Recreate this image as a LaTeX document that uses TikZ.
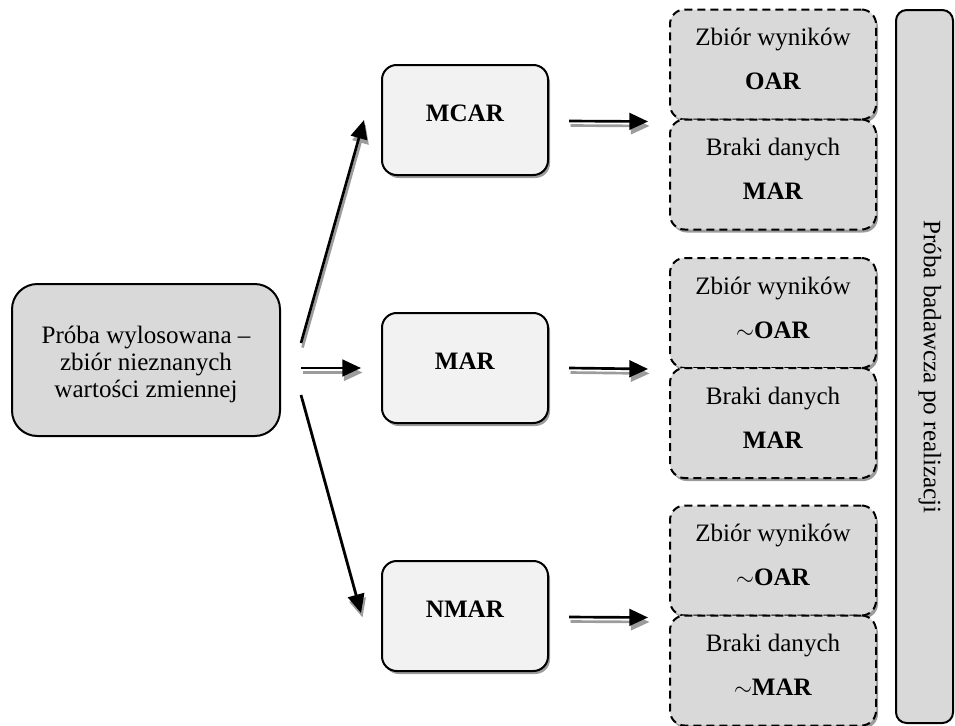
\documentclass[tikz,border=0pt]{standalone}
\usepackage{fontspec}
\setmainfont{Liberation Serif}
\usetikzlibrary{arrows.meta,shadows,calc}
\definecolor{boxgray}{HTML}{D9D9D9}
\definecolor{lightbox}{HTML}{F2F2F2}
\definecolor{shadegray}{HTML}{9C9C9C}
\begin{document}
\begin{tikzpicture}[x=0.75pt,y=-0.75pt,
  every node/.style={font=\fontsize{18.8}{20.25}\selectfont},
  txt/.style={inner sep=0pt, align=center},
  boxshadow/.style={drop shadow={shadow xshift=1.5pt, shadow yshift=-2.25pt, fill=shadegray, opacity=1}},
  startbox/.style={draw, line width=1.5pt, fill=boxgray, rounded corners=19pt,
    minimum width=201pt, minimum height=114pt, inner sep=0pt},
  mechbox/.style={draw, line width=1.5pt, fill=lightbox, rounded corners=11pt,
    minimum width=124.5pt, minimum height=82.5pt, inner sep=0pt, boxshadow},
  resbox/.style={draw, line width=1.5pt, dash pattern=on 6pt off 3.75pt, fill=boxgray,
    rounded corners=11pt, minimum width=154.5pt, minimum height=82.5pt, inner sep=0pt, boxshadow},
  samplebox/.style={draw, line width=1.5pt, fill=boxgray, rounded corners=8pt,
    minimum width=42.75pt, minimum height=534.75pt, inner sep=0pt},
  flow/.style={line width=2pt, -{Triangle[length=14pt,width=12.5pt]}},
  flowshadow/.style={flow, draw=shadegray, fill=shadegray, transform canvas={shift={(1.5,4.5)}}}
]
\useasboundingbox (0,0) rectangle (955,725);

% starting box
\node[startbox] (start) at (146,360) {};
\node[txt] (starttxt) at (146,364) {Próba wylosowana –\\zbiór nieznanych\\wartości zmiennej};

% missingness mechanisms
\node[mechbox] (mcar) at (465,120) {};
\node[mechbox] (mar)  at (465,368) {};
\node[mechbox] (nmar) at (465,616) {};
\node[txt, anchor=base] (mcartxt) at ($(mcar.center)+(0,1)$) {\textbf{MCAR}};
\node[txt, anchor=base] (martxt)  at ($(mar.center)+(0,1)$)  {\textbf{MAR}};
\node[txt, anchor=base] (nmartxt) at ($(nmar.center)+(0,1)$) {\textbf{NMAR}};

% result boxes
\node[resbox] (a1) at (773,64.5) {};
\node[resbox] (a2) at (773,174.5) {};
\node[resbox] (b1) at (773,313) {};
\node[resbox] (b2) at (773,423) {};
\node[resbox] (c1) at (773,560.5) {};
\node[resbox] (c2) at (773,670.5) {};

\node[txt, anchor=base] (a1t) at ($(a1.north)+(0,37)$) {Zbiór wyników};
\node[txt, anchor=base] (a1b) at ($(a1.north)+(0,81)$) {\textbf{OAR}};
\node[txt, anchor=base] (a2t) at ($(a2.north)+(0,37)$) {Braki danych};
\node[txt, anchor=base] (a2b) at ($(a2.north)+(0,81)$) {\textbf{MAR}};
\node[txt, anchor=base] (b1t) at ($(b1.north)+(0,37)$) {Zbiór wyników};
\node[txt, anchor=base] (b1b) at ($(b1.north)+(0,81)$) {$\sim$\textbf{OAR}};
\node[txt, anchor=base] (b2t) at ($(b2.north)+(0,37)$) {Braki danych};
\node[txt, anchor=base] (b2b) at ($(b2.north)+(0,81)$) {\textbf{MAR}};
\node[txt, anchor=base] (c1t) at ($(c1.north)+(0,37)$) {Zbiór wyników};
\node[txt, anchor=base] (c1b) at ($(c1.north)+(0,81)$) {$\sim$\textbf{OAR}};
\node[txt, anchor=base] (c2t) at ($(c2.north)+(0,37)$) {Braki danych};
\node[txt, anchor=base] (c2b) at ($(c2.north)+(0,81)$) {$\sim$\textbf{MAR}};

% sample after realisation
\node[samplebox] (sample) at (924.5,366.5) {};
\node[txt, rotate=-90] (sampletxt) at (930,367) {Próba badawcza po realizacji};

% connectors: shadows first, then the arrows
\foreach \style in {flowshadow, flow} {
  \draw[\style] ($(start.east)+(20,-17)$) -- ($(mcar.west)+(-17,0)$);
  \draw[\style] ($(start.east)+(20,8)$)   -- ($(mar.west)+(-20,0)$);
  \draw[\style] ($(start.east)+(20,35)$)  -- ($(nmar.west)+(-20,-3)$);
  \draw[\style] ($(mcar.east)+(20,1)$) -- ($(a1.south west)+(-21,1)$);
  \draw[\style] ($(mar.east)+(20,0)$)  -- ($(b1.south west)+(-21,0)$);
  \draw[\style] ($(nmar.east)+(20,1)$) -- ($(c1.south west)+(-21,1)$);
}
\end{tikzpicture}
\end{document}
